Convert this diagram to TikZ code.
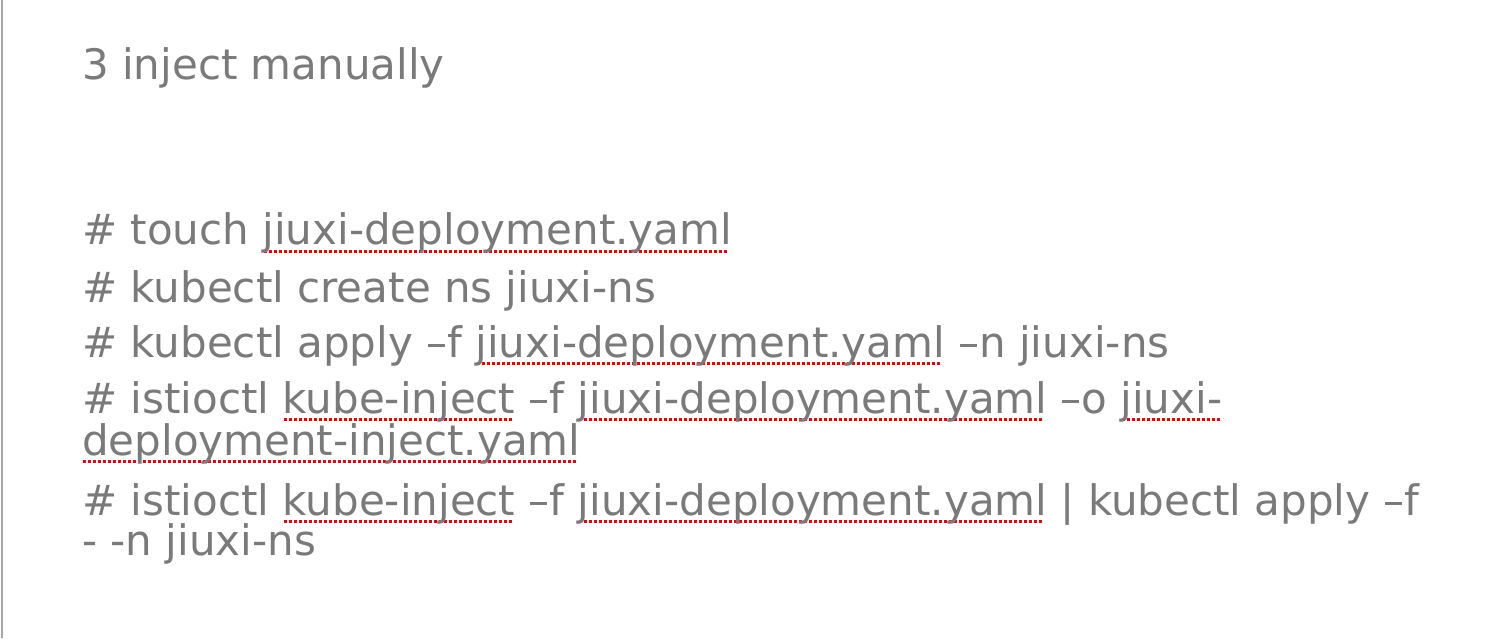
\documentclass[tikz,border=0pt]{standalone}
\usepackage{xcolor}
\usepackage{fontspec}
\setmainfont{DejaVu Sans}
\definecolor{slidegrey}{HTML}{7A7A7A}
\definecolor{spellred}{HTML}{D01010}
\newcommand{\spell}[1]{\setbox0\hbox{#1}\rlap{\raisebox{-0.2em}{\color{spellred}\hbox to \wd0{\leaders\hbox to 5pt{\hss\rule{3pt}{3pt}\hss}\hfill}}}\box0}
\tikzset{
    cmdline/.style={anchor=base west, inner sep=0pt, text=slidegrey, font=\fontsize{42}{50}\selectfont},
}
\begin{document}
\begin{tikzpicture}[x=1pt, y=1pt]
    \useasboundingbox (0,0) rectangle (1511,638);
    \fill[white] (0,0) rectangle (1511,638);
    \draw[line width=1.5pt, black!35] (2,0) -- (2,638);

    % title
    \node[cmdline] (title) at (82,558) {3 inject manually};

    % commands
    \node[cmdline] (touch) at (82,393) {\# touch \spell{jiuxi-deployment.yaml}};
    \node[cmdline] (ns) at (82,336) {\# kubectl create ns jiuxi-ns};
    \node[cmdline] (apply) at (82,281) {\# kubectl apply --f \spell{jiuxi-deployment.yaml}\ --n jiuxi-ns};
    \node[cmdline] (inj) at (82,225) {\# istioctl \spell{kube-inject}\ --f \spell{jiuxi-deployment.yaml}\ --o \spell{jiuxi-}};
    \node[cmdline] (injb) at (82,183) {\spell{deployment-inject.yaml}};
    \node[cmdline] (pipe) at (82,123) {\# istioctl \spell{kube-inject}\ --f \spell{jiuxi-deployment.yaml}\ | kubectl apply --f};
    \node[cmdline] (pipeb) at (82,83) {- -n jiuxi-ns};
\end{tikzpicture}
\end{document}
